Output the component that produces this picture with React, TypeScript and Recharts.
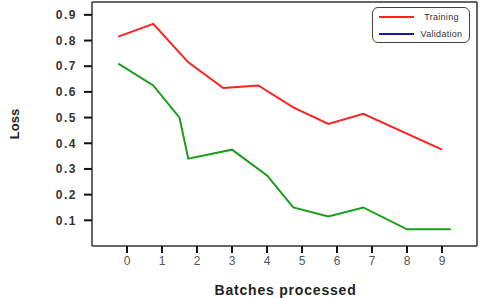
import React from 'react';
import { LineChart, Line, XAxis, YAxis, Label } from 'recharts';

// batch positions and loss values
const trainingX = [-0.25, 0.75, 1.75, 2.75, 3.75, 4.75, 5.75, 6.75, 9];
const trainingLoss = [0.815, 0.865, 0.715, 0.615, 0.625, 0.54, 0.475, 0.515, 0.375];
const validationX = [-0.25, 0.75, 1.5, 1.75, 3, 4, 4.75, 5.75, 6.75, 8, 9.25];
const validationLoss = [0.71, 0.625, 0.5, 0.34, 0.375, 0.275, 0.15, 0.115, 0.15, 0.065, 0.065];
const xTicks = [0, 1, 2, 3, 4, 5, 6, 7, 8, 9];
const yTicks = [0.1, 0.2, 0.3, 0.4, 0.5, 0.6, 0.7, 0.8, 0.9];
const legendItems = [
  { label: 'Training', color: '#ff2020' },
  { label: 'Validation', color: '#1a1aa0' },
];

const training = trainingX.map((x, i) => ({ x, loss: trainingLoss[i] }));
const validation = validationX.map((x, i) => ({ x, loss: validationLoss[i] }));

const FONT = 'Arial, "Liberation Sans", sans-serif';
const BOX = { stroke: '#333', strokeWidth: 1.5 };

// legend drawn over the plot; the validation swatch is blue like in the source image
const LegendBox = () => (
  <div
    style={{
      position: 'absolute',
      left: 372,
      top: 7,
      width: 96,
      height: 34,
      border: '1px solid #444',
      borderRadius: 6,
      background: '#fff',
      fontFamily: FONT,
      fontSize: 9,
      letterSpacing: 0.3,
      color: '#333',
    }}
  >
    {legendItems.map((item) => (
      <div key={item.label} style={{ display: 'flex', alignItems: 'center', height: 17 }}>
        <div style={{ width: 35, height: 2, background: item.color, marginLeft: 6 }} />
        <span style={{ flex: 1, textAlign: 'center' }}>{item.label}</span>
      </div>
    ))}
  </div>
);

export default function App() {
  return (
    <div style={{ position: 'absolute', left: 0, top: 0, width: 480, height: 298, background: '#fff' }}>
      <LineChart width={480} height={298} margin={{ top: 1, right: 2, left: 0, bottom: 0 }}>
        <XAxis
          type="number"
          dataKey="x"
          domain={[-1, 10]}
          ticks={xTicks}
          allowDataOverflow
          height={52}
          axisLine={BOX}
          tickSize={7}
          tickMargin={3}
          tickLine={{ stroke: '#111', strokeWidth: 2 }}
          tick={{ fill: '#555', fontSize: 12, fontFamily: FONT }}
        >
          <Label
            content={({ viewBox }: any) => (
              <text
                x={viewBox.x + viewBox.width / 2 + 1}
                y={viewBox.y + 49}
                textAnchor="middle"
                fontFamily={FONT}
                fontSize={14}
                fontWeight="bold"
                letterSpacing={0.8}
                fill="#222"
              >
                Batches processed
              </text>
            )}
          />
        </XAxis>
        <XAxis
          xAxisId="top"
          orientation="top"
          type="number"
          domain={[-1, 10]}
          height={1}
          axisLine={BOX}
          tick={false}
          tickLine={false}
        />
        <YAxis
          type="number"
          domain={[0, 0.95]}
          ticks={yTicks}
          allowDataOverflow
          width={92}
          axisLine={BOX}
          tickSize={8}
          tickMargin={7}
          tickLine={{ stroke: '#111', strokeWidth: 2 }}
          tick={{ fill: '#333', fontSize: 12, fontWeight: 'bold', fontFamily: FONT, letterSpacing: 1.5 }}
        >
          <Label
            content={({ viewBox }: any) => {
              const cx = viewBox.x + 14;
              const cy = viewBox.y + viewBox.height / 2;
              return (
                <text
                  x={cx}
                  y={cy}
                  transform={`rotate(-90 ${cx} ${cy})`}
                  textAnchor="middle"
                  dominantBaseline="central"
                  fontFamily={FONT}
                  fontSize={13}
                  fontWeight="bold"
                  fill="#222"
                >
                  Loss
                </text>
              );
            }}
          />
        </YAxis>
        <YAxis
          yAxisId="right"
          orientation="right"
          type="number"
          domain={[0, 0.95]}
          width={1}
          axisLine={BOX}
          tick={false}
          tickLine={false}
        />
        <Line
          data={training}
          dataKey="loss"
          name="Training"
          stroke="#ff2020"
          strokeWidth={2}
          dot={false}
          type="linear"
          isAnimationActive={false}
        />
        <Line
          data={validation}
          dataKey="loss"
          name="Validation"
          stroke="#1a9e1a"
          strokeWidth={2}
          dot={false}
          type="linear"
          isAnimationActive={false}
        />
      </LineChart>
      <LegendBox />
    </div>
  );
}
